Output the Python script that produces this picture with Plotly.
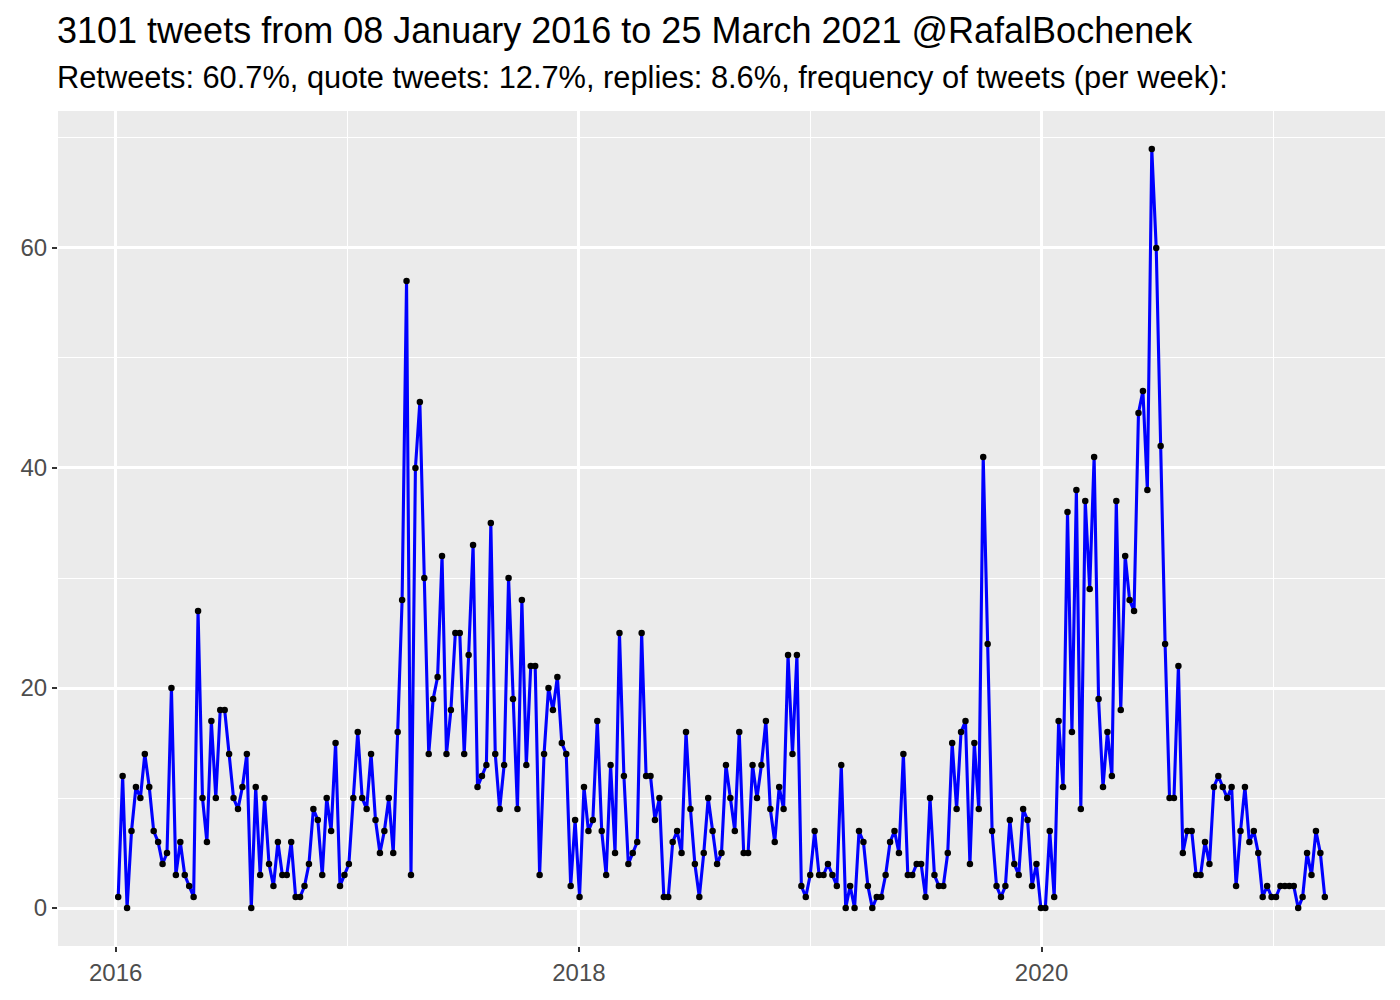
import pandas as pd
import plotly.graph_objects as go

# Weekly tweet counts, starting first week of Jan 2016
start_date = "2016-01-05"
tweets_per_week = [
    1, 12, 0, 7, 11, 10, 14, 11, 7, 6,
    4, 5, 20, 3, 6, 3, 2, 1, 27, 10,
    6, 17, 10, 18, 18, 14, 10, 9, 11, 14,
    0, 11, 3, 10, 4, 2, 6, 3, 3, 6,
    1, 1, 2, 4, 9, 8, 3, 10, 7, 15,
    2, 3, 4, 10, 16, 10, 9, 14, 8, 5,
    7, 10, 5, 16, 28, 57, 3, 40, 46, 30,
    14, 19, 21, 32, 14, 18, 25, 25, 14, 23,
    33, 11, 12, 13, 35, 14, 9, 13, 30, 19,
    9, 28, 13, 22, 22, 3, 14, 20, 18, 21,
    15, 14, 2, 8, 1, 11, 7, 8, 17, 7,
    3, 13, 5, 25, 12, 4, 5, 6, 25, 12,
    12, 8, 10, 1, 1, 6, 7, 5, 16, 9,
    4, 1, 5, 10, 7, 4, 5, 13, 10, 7,
    16, 5, 5, 13, 10, 13, 17, 9, 6, 11,
    9, 23, 14, 23, 2, 1, 3, 7, 3, 3,
    4, 3, 2, 13, 0, 2, 0, 7, 6, 2,
    0, 1, 1, 3, 6, 7, 5, 14, 3, 3,
    4, 4, 1, 10, 3, 2, 2, 5, 15, 9,
    16, 17, 4, 15, 9, 41, 24, 7, 2, 1,
    2, 8, 4, 3, 9, 8, 2, 4, 0, 0,
    7, 1, 17, 11, 36, 16, 38, 9, 37, 29,
    41, 19, 11, 16, 12, 37, 18, 32, 28, 27,
    45, 47, 38, 69, 60, 42, 24, 10, 10, 22,
    5, 7, 7, 3, 3, 6, 4, 11, 12, 11,
    10, 11, 2, 7, 11, 6, 7, 5, 1, 2,
    1, 1, 2, 2, 2, 2, 0, 1, 5, 3,
    7, 5, 1,
]
weeks = pd.date_range(start=start_date, periods=len(tweets_per_week), freq="7D")

title_text = "3101 tweets from 08 January 2016 to 25 March 2021 @RafalBochenek"
subtitle_text = ("Retweets: 60.7%, quote tweets: 12.7%, replies: 8.6%, "
                 "frequency of tweets (per week):")
y_ticks = [0, 20, 40, 60]
y_minor = [10, 30, 50, 70]
x_ticks = ["2016-01-01", "2018-01-01", "2020-01-01"]
x_minor = ["2017-01-01", "2019-01-01", "2021-01-01"]
x_tick_labels = ["2016", "2018", "2020"]

FONT = "Liberation Sans, Arial, Helvetica, sans-serif"

fig = go.Figure()
fig.add_trace(go.Scatter(
    x=weeks, y=tweets_per_week, mode="lines+markers",
    line=dict(color="#0000FF", width=3.1),
    marker=dict(color="black", size=6.5),
    showlegend=False, hoverinfo="x+y",
))

PLOT_W = 1392 - 50 - 15
PLOT_H = 992 - 103 - 54

# page body has an 8px default margin, so the figure is sized to fit the window
fig.update_layout(
    width=1392, height=992,
    margin=dict(l=50, r=15, t=103, b=54),
    paper_bgcolor="white",
    plot_bgcolor="#EBEBEB",
    font=dict(family=FONT, color="black"),
    annotations=[
        dict(text=title_text, xref="paper", yref="paper", x=-3 / PLOT_W,
             y=(PLOT_H + 103 - 23) / PLOT_H,
             xanchor="left", yanchor="middle", showarrow=False,
             font=dict(size=36, color="black", family=FONT)),
        dict(text=subtitle_text, xref="paper", yref="paper", x=-3 / PLOT_W,
             y=(PLOT_H + 103 - 69) / PLOT_H,
             xanchor="left", yanchor="middle", showarrow=False,
             font=dict(size=30.8, color="black", family=FONT)),
    ],
)

fig.update_xaxes(
    type="date",
    range=["2015-10-02", "2021-06-26"],
    tickvals=x_ticks, ticktext=x_tick_labels,
    showgrid=True, gridcolor="white", gridwidth=2.5,
    minor=dict(showgrid=True, gridcolor="white", gridwidth=1.2,
               tickvals=x_minor, ticks=""),
    ticks="outside", ticklen=5, tickwidth=1.5, tickcolor="#333333",
    tickfont=dict(size=24, color="#4D4D4D", family=FONT),
    zeroline=False, showline=False, automargin=False,
)
fig.update_yaxes(
    range=[-3.45, 72.45],
    tickvals=y_ticks,
    showgrid=True, gridcolor="white", gridwidth=2.5,
    minor=dict(showgrid=True, gridcolor="white", gridwidth=1.2,
               tickvals=y_minor, ticks=""),
    ticks="outside", ticklen=5, tickwidth=1.5, tickcolor="#333333",
    tickfont=dict(size=24, color="#4D4D4D", family=FONT),
    zeroline=False, showline=False, automargin=False,
)

fig.write_html("out.html")
